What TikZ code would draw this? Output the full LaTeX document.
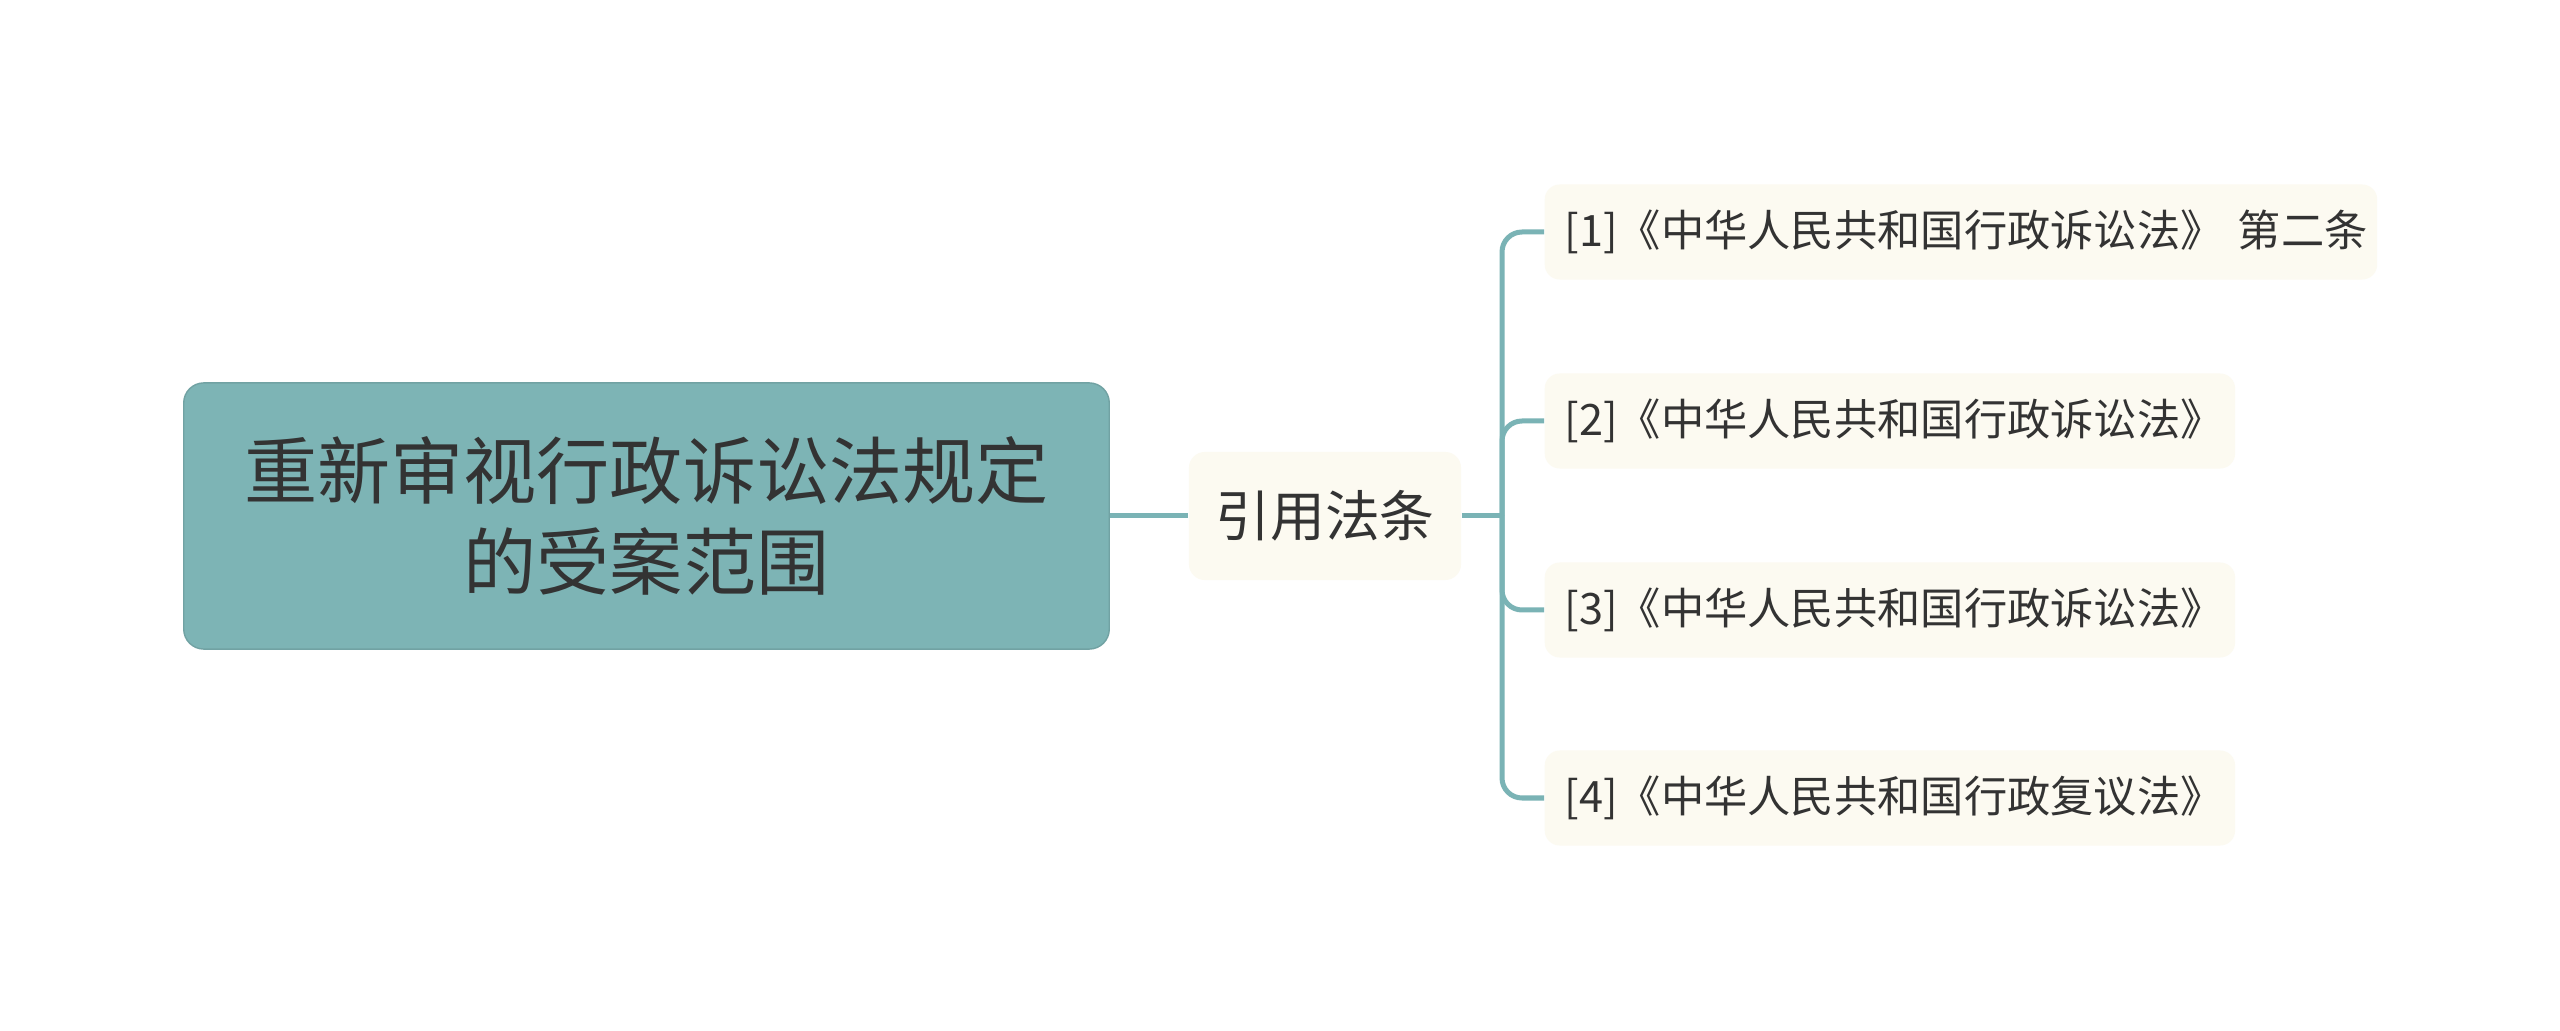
\documentclass[tikz,border=0pt]{standalone}
\usepackage{fontspec}
\setmainfont{Noto Sans CJK SC}
\definecolor{rootfill}{HTML}{7DB4B5}
\definecolor{linecol}{HTML}{7AB3B5}
\definecolor{leaffill}{HTML}{FCFAF1}
\definecolor{txt}{HTML}{333333}
\begin{document}
\begin{tikzpicture}[x=0.01cm,y=-0.01cm,
  rootbox/.style={fill=rootfill,draw=rootfill!90!black,line width=0.4pt,rounded corners=0.2cm,
    minimum width=9.25cm,minimum height=2.66cm,text width=8.6cm,align=center,inner sep=0pt,
    text=txt,font=\fontsize{20.8pt}{26pt}\selectfont},
  midbox/.style={fill=leaffill,rounded corners=0.16cm,minimum width=2.72cm,minimum height=1.28cm,
    inner sep=0pt,text=txt,font=\fontsize{15.6pt}{19pt}\selectfont},
  leafbox/.style={fill=leaffill,rounded corners=0.15cm,minimum height=0.95cm,inner xsep=0.2cm,inner ysep=0pt,
    align=left,text=txt,font=\fontsize{12.3pt}{15pt}\selectfont},
  conn/.style={draw=linecol,line width=0.05cm,rounded corners=0.2cm}]
\path[use as bounding box,fill=white] (0,0) rectangle (2560,1031);
\node[rootbox] (root) at (646.5,516) {重新审视行政诉讼法规定\\的受案范围};
\node[midbox] (mid) at (1325,516) {引用法条};
\node[leafbox,text width=7.92cm,anchor=west] (l1) at (1544,232) {\mbox{[1]《中华人民共和国行政诉讼法》 第二条}};
\node[leafbox,text width=6.5cm,anchor=west] (l2) at (1544,421) {[2]《中华人民共和国行政诉讼法》};
\node[leafbox,text width=6.5cm,anchor=west] (l3) at (1544,610) {[3]《中华人民共和国行政诉讼法》};
\node[leafbox,text width=6.5cm,anchor=west] (l4) at (1544,798) {[4]《中华人民共和国行政复议法》};
\draw[conn] (root.east) -- (mid.west);
\coordinate (tr) at (1502,516);
\draw[conn] (mid.east) -- (tr);
\foreach \l in {l1,l2,l3,l4}{
  \draw[conn] (tr) |- (\l.west);
}
\end{tikzpicture}
\end{document}
